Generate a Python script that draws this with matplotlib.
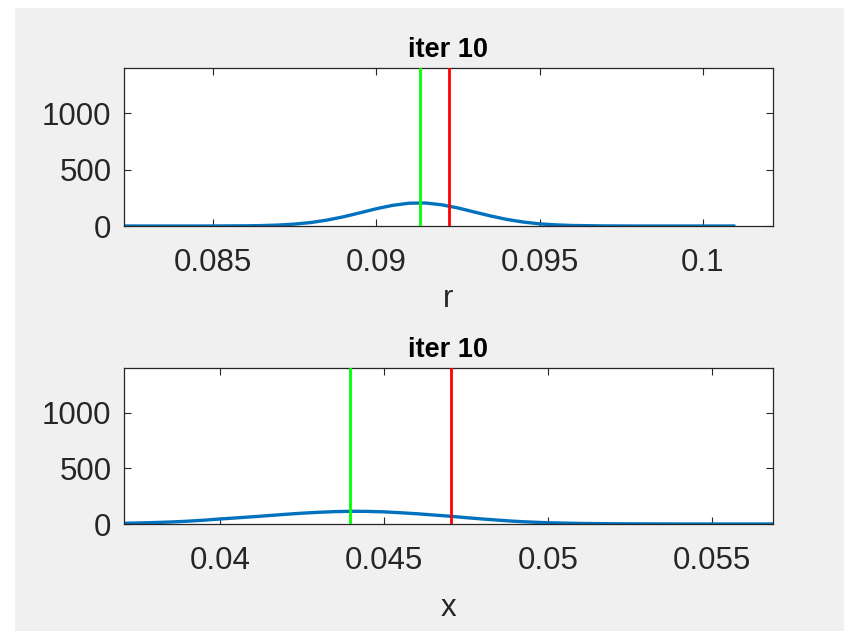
import matplotlib
matplotlib.use("Agg")
import matplotlib.pyplot as plt
from matplotlib.patches import Rectangle

# ---- data ----
r_vals = [0.0822, 0.0830, 0.0840, 0.0850, 0.0860, 0.0865, 0.0870, 0.0875, 0.0880,
          0.0885, 0.0890, 0.0895, 0.0900, 0.0905, 0.0910, 0.0915, 0.0920, 0.0925,
          0.0930, 0.0935, 0.0940, 0.0945, 0.0950, 0.0955, 0.0960, 0.0970, 0.0980,
          0.0990, 0.1000, 0.1010]
r_dens = [0, 0, 0, 0.2, 1.6, 3.8, 8.4, 17, 31,
          53, 82, 117, 153, 183, 202, 204, 188, 160,
          124, 89, 58, 35, 19, 10, 4.5, 0.7, 0,
          0, 0, 0]
r_green = 0.09135
r_red = 0.09221

x_vals = [0.0370, 0.0375, 0.0380, 0.0385, 0.0390, 0.0395, 0.0400, 0.0405, 0.0410,
          0.0415, 0.0420, 0.0425, 0.0430, 0.0435, 0.0440, 0.0445, 0.0450, 0.0455,
          0.0460, 0.0465, 0.0470, 0.0475, 0.0480, 0.0485, 0.0490, 0.0495, 0.0500,
          0.0510, 0.0520, 0.0530, 0.0540, 0.0550, 0.0560, 0.0570]
x_dens = [6, 9, 13, 18, 25, 34, 45, 55, 65,
          76, 87, 97, 105, 111, 114, 113, 109, 101,
          92, 81, 70, 57, 45, 34, 24, 17, 11,
          5, 2, 1, 0, 0, 0, 0]
x_green = 0.04396
x_red = 0.04704

r_ticks = [0.085, 0.09, 0.095, 0.1]
r_ticklabels = ["0.085", "0.09", "0.095", "0.1"]
x_ticks = [0.04, 0.045, 0.05, 0.055]
x_ticklabels = ["0.04", "0.045", "0.05", "0.055"]
y_ticks = [0, 500, 1000]
y_ticklabels = ["0", "500", "1000"]

titles = ["iter 10", "iter 10"]
xlabels = ["r", "x"]

plt.rcParams['font.family'] = ['Liberation Sans', 'DejaVu Sans']

W, H = 844, 631
fig = plt.figure(figsize=(W / 100, H / 100), dpi=100, facecolor='white')
fig.patches.append(Rectangle((15 / W, 0), 1 - 15 / W, 1 - 8 / H,
                             transform=fig.transFigure, facecolor='#f0f0f0',
                             edgecolor='none', zorder=-10))

axcol = '#262626'
blue = '#0072BD'

def setup(ax, xv, yv, g, rd, xlim, ticks, ticklabels, title, xlabel, lpad):
    ax.plot(xv, yv, color=blue, lw=2.4, solid_capstyle='butt', zorder=2)
    ax.axvline(g, color='#00ff00', lw=2.0, zorder=3)
    ax.axvline(rd, color='#ff0000', lw=2.0, zorder=3)
    ax.set_xlim(*xlim)
    ax.set_ylim(0, 1400)
    ax.set_xticks(ticks)
    ax.set_xticklabels(ticklabels)
    ax.set_yticks(y_ticks)
    ax.set_yticklabels(y_ticklabels)
    ax.tick_params(direction='in', length=5, width=0.8, colors=axcol,
                   labelsize=22.5, top=True, right=True)
    ax.tick_params(axis='x', pad=16)
    ax.tick_params(axis='y', pad=9)
    for s in ax.spines.values():
        s.set_color(axcol)
        s.set_linewidth(0.9)
    ax.set_title(title, fontsize=19.5, fontweight='bold', color='#000000', pad=8)
    ax.set_xlabel(xlabel, fontsize=22.5, color=axcol, labelpad=lpad)
    ax.set_facecolor('white')

ax1 = fig.add_axes([124 / W, 1 - 226 / H, (773 - 124) / W, (226 - 68) / H])
setup(ax1, r_vals, r_dens, r_green, r_red, (0.08227, 0.10215),
      r_ticks, r_ticklabels, titles[0], xlabels[0], 4)

ax2 = fig.add_axes([124 / W, 1 - 524 / H, (773 - 124) / W, (524 - 368) / H])
setup(ax2, x_vals, x_dens, x_green, x_red, (0.03707, 0.05686),
      x_ticks, x_ticklabels, titles[1], xlabels[1], 12)

fig.savefig("out.png", dpi=100, facecolor=fig.get_facecolor())
